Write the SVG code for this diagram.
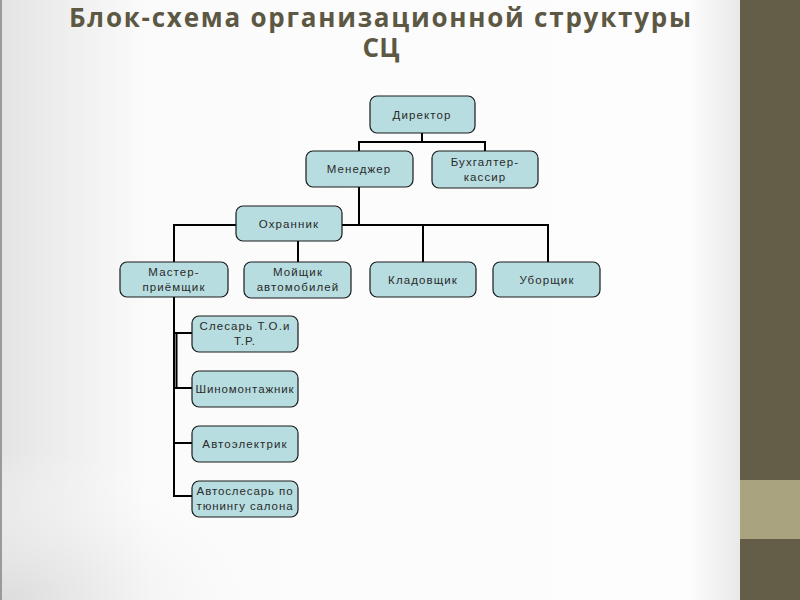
<svg xmlns="http://www.w3.org/2000/svg" width="800" height="600" viewBox="0 0 800 600">
<defs>
<linearGradient id="bgL" x1="0" y1="0" x2="1" y2="0">
<stop offset="0" stop-color="#e4e4e4"/>
<stop offset="0.2" stop-color="#fbfbfb"/>
<stop offset="0.93" stop-color="#fdfdfd"/>
<stop offset="1" stop-color="#e9e9e9"/>
</linearGradient>
<radialGradient id="bgBL" cx="0" cy="1" r="0.5">
<stop offset="0" stop-color="#dcdcdc"/>
<stop offset="1" stop-color="#ffffff" stop-opacity="0"/>
</radialGradient>
<style>
.box{fill:#b7dde0;stroke:#1a1a1a;stroke-width:1.2}
.lbl{font-family:"Liberation Sans",Arial,sans-serif;font-size:11.5px;fill:#2a2a2a;text-anchor:middle;letter-spacing:1.1px}
.tight{letter-spacing:0.9px}
.ttl{font-family:"Open Sans","DejaVu Sans",sans-serif;font-weight:bold;font-size:26px;fill:#5c5843;text-anchor:middle}
.con{stroke:#000;stroke-width:2;fill:none}
</style>
</defs>
<rect x="0" y="0" width="740" height="600" fill="url(#bgL)"/>
<rect x="0" y="300" width="600" height="300" fill="url(#bgBL)"/>
<line x1="1" y1="0" x2="1" y2="600" stroke="#9a9a9a" stroke-width="2"/>
<rect x="740" y="0" width="60" height="600" fill="#645d48"/>
<rect x="740" y="480" width="60" height="59" fill="#a9a47f"/>
<text class="ttl" x="380" y="27" textLength="622" lengthAdjust="spacing">Блок-схема организационной структуры</text>
<text class="ttl" x="381" y="57">СЦ</text>
<g id="connectors">
<polyline class="con" points="422,133 422,142"/>
<polyline class="con" points="359,151 359,142 485,142 485,151"/>
<polyline class="con" points="359,187 359,225"/>
<polyline class="con" points="174,262 174,225 548,225 548,262"/>
<polyline class="con" points="298,241 298,262"/>
<polyline class="con" points="423,225 423,262"/>
<polyline class="con" points="174,297 174,496 192,496"/>
<line class="con" x1="174" y1="333" x2="192" y2="333"/>
<line class="con" x1="174" y1="388" x2="192" y2="388"/>
<line class="con" x1="174" y1="443" x2="192" y2="443"/>
<line class="con" x1="176.5" y1="333" x2="176.5" y2="388" stroke-width="3"/>
</g>
<g id="n-director"><rect class="box" x="370" y="96" width="105" height="37" rx="7"/><text class="lbl" x="422" y="119">Директор</text></g>
<g id="n-manager"><rect class="box" x="306" y="151" width="107" height="36" rx="7"/><text class="lbl" x="359" y="173">Менеджер</text></g>
<g id="n-accountant"><rect class="box" x="432" y="151" width="106" height="37" rx="7"/><text class="lbl" x="485" y="166">Бухгалтер-</text><text class="lbl" x="485" y="181">кассир</text></g>
<g id="n-guard"><rect class="box" x="236" y="206" width="106" height="35" rx="7"/><text class="lbl" x="289" y="228">Охранник</text></g>
<g id="n-master"><rect class="box" x="120" y="262" width="108" height="35" rx="7"/><text class="lbl" x="174" y="276">Мастер-</text><text class="lbl" x="174" y="291">приёмщик</text></g>
<g id="n-washer"><rect class="box" x="244" y="262" width="107" height="36" rx="7"/><text class="lbl" x="298" y="276">Мойщик</text><text class="lbl" x="298" y="291">автомобилей</text></g>
<g id="n-storekeeper"><rect class="box" x="370" y="262" width="106" height="35" rx="7"/><text class="lbl" x="423" y="284">Кладовщик</text></g>
<g id="n-cleaner"><rect class="box" x="493" y="262" width="107" height="35" rx="7"/><text class="lbl" x="547" y="284">Уборщик</text></g>
<g id="n-mechanic"><rect class="box" x="192" y="316" width="106" height="36" rx="7"/><text class="lbl" x="245" y="330">Слесарь Т.О.и</text><text class="lbl" x="245" y="345">Т.Р.</text></g>
<g id="n-tire"><rect class="box" x="192" y="371" width="106" height="36" rx="7"/><text class="lbl tight" x="245" y="393">Шиномонтажник</text></g>
<g id="n-electric"><rect class="box" x="192" y="426" width="106" height="36" rx="7"/><text class="lbl" x="245" y="448">Автоэлектрик</text></g>
<g id="n-tuning"><rect class="box" x="192" y="481" width="106" height="36" rx="7"/><text class="lbl tight" x="245" y="495">Автослесарь по</text><text class="lbl tight" x="245" y="510">тюнингу салона</text></g>
</svg>
